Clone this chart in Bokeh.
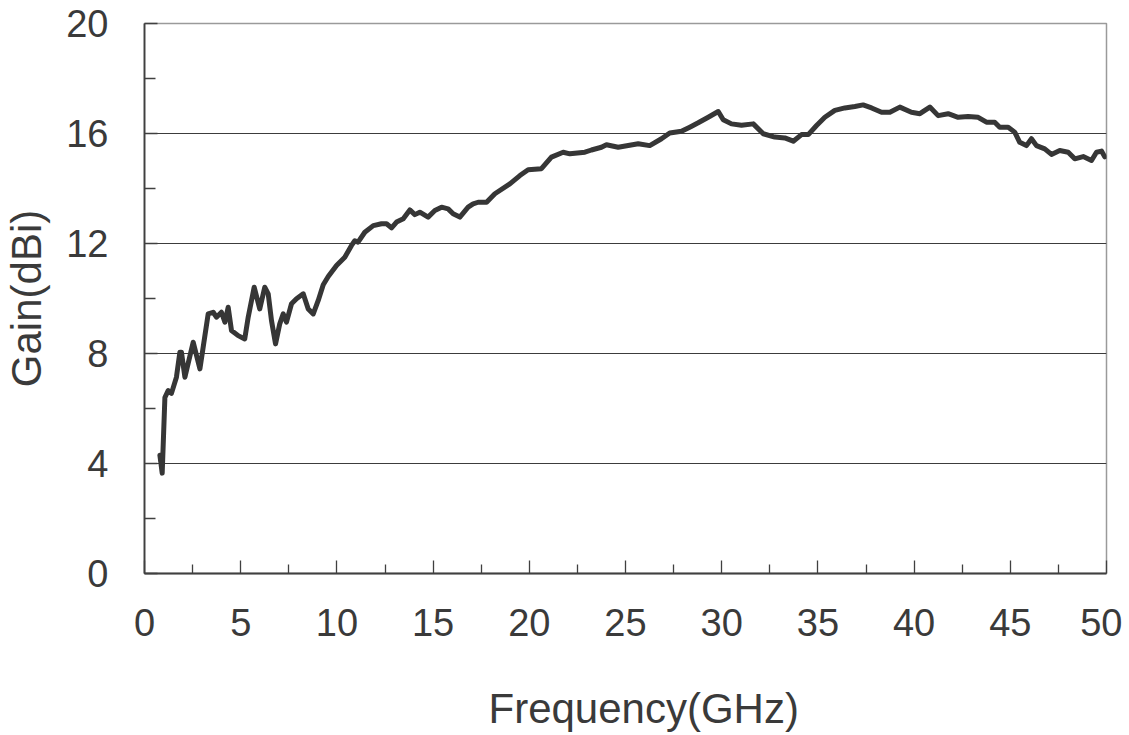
from bokeh.plotting import figure
from bokeh.models import FixedTicker, Range1d, Grid, Title
from bokeh.embed import file_html
from bokeh.resources import INLINE

freq_ghz = [0.80, 0.92, 1.06, 1.23, 1.40, 1.66, 1.84, 1.92, 2.10, 2.53, 2.88, 3.05, 3.31, 3.57, 3.74,
            4.00, 4.18, 4.35, 4.52, 4.87, 5.21, 5.39, 5.70, 5.99, 6.25, 6.43, 6.60, 6.81, 7.03, 7.21,
            7.38, 7.64, 7.90, 8.25, 8.51, 8.77, 9.03, 9.29, 9.55, 9.98, 10.41, 10.76, 10.93, 11.10,
            11.45, 11.89, 12.32, 12.58, 12.84, 13.10, 13.45, 13.79, 14.05, 14.31, 14.74, 15.09, 15.44,
            15.78, 16.04, 16.39, 16.82, 17.08, 17.34, 17.78, 18.21, 18.99, 19.51, 19.94, 20.63, 21.15,
            21.76, 22.11, 22.89, 23.23, 23.75, 24.01, 24.62, 25.66, 26.26, 26.87, 27.30, 27.91, 28.34,
            28.78, 29.30, 29.82, 30.08, 30.51, 31.03, 31.64, 32.16, 32.76, 33.28, 33.72, 34.15, 34.50,
            34.93, 35.36, 35.88, 36.40, 36.92, 37.35, 37.79, 38.31, 38.74, 39.26, 39.86, 40.30, 40.82,
            41.25, 41.77, 42.29, 42.81, 43.33, 43.76, 44.19, 44.45, 44.89, 45.23, 45.49, 45.84, 46.10,
            46.36, 46.79, 47.14, 47.57, 48.01, 48.35, 48.79, 49.22, 49.48, 49.74, 49.91]

gain_dbi = [4.30, 3.65, 6.40, 6.65, 6.55, 7.14, 8.05, 8.05, 7.14, 8.41, 7.44, 8.23, 9.44, 9.50, 9.32,
            9.50, 9.14, 9.68, 8.84, 8.65, 8.53, 9.32, 10.41, 9.62, 10.41, 10.17, 9.20, 8.35, 9.08, 9.44,
            9.14, 9.81, 9.99, 10.17, 9.62, 9.44, 9.93, 10.50, 10.80, 11.20, 11.50, 11.93, 12.10, 12.05,
            12.41, 12.65, 12.72, 12.72, 12.57, 12.78, 12.90, 13.22, 13.05, 13.14, 12.96, 13.20, 13.32,
            13.26, 13.08, 12.96, 13.32, 13.44, 13.50, 13.50, 13.81, 14.17, 14.47, 14.68, 14.72, 15.14,
            15.32, 15.26, 15.32, 15.40, 15.50, 15.59, 15.50, 15.63, 15.56, 15.81, 16.02, 16.08, 16.23,
            16.39, 16.59, 16.80, 16.50, 16.35, 16.30, 16.35, 15.99, 15.87, 15.84, 15.72, 15.96, 15.96,
            16.29, 16.59, 16.84, 16.93, 16.98, 17.04, 16.93, 16.77, 16.77, 16.96, 16.77, 16.72, 16.96,
            16.65, 16.72, 16.59, 16.62, 16.59, 16.41, 16.41, 16.23, 16.23, 16.05, 15.68, 15.56, 15.81,
            15.56, 15.44, 15.24, 15.38, 15.32, 15.08, 15.16, 15.02, 15.32, 15.36, 15.15]

x_major = [0, 5, 10, 15, 20, 25, 30, 35, 40, 45, 50]
x_minor = [2.5, 7.5, 12.5, 17.5, 22.5, 27.5, 32.5, 37.5, 42.5, 47.5]
y_major = [0, 4, 8, 12, 16, 20]
y_minor = [2, 6, 10, 14, 18]
grid_lines = [4, 8, 12, 16]
x_title = "Frequency(GHz)"
y_title = "Gain(dBi)"

FONT = "Liberation Sans"
TXT = "#3a3a3a"
AX = "#404040"

p = figure(width=1113, height=727, output_backend="svg", toolbar_location=None,
           x_range=Range1d(0, 50), y_range=Range1d(0, 20),
           frame_width=962, frame_height=550,
           min_border_left=135, min_border_right=16, min_border_top=23, min_border_bottom=140)

p.background_fill_color = "white"
p.border_fill_color = "white"
p.outline_line_color = "#9a9a9a"
p.outline_line_width = 1.5

p.xgrid.visible = False
p.ygrid.visible = False
p.add_layout(Grid(dimension=1, ticker=FixedTicker(ticks=grid_lines),
                  grid_line_color="#3c3c3c", grid_line_width=1.2))

p.line(freq_ghz, gain_dbi, line_color="#363636", line_width=5, line_join="round", line_cap="round")

p.xaxis.ticker = FixedTicker(ticks=x_major, minor_ticks=x_minor)
p.yaxis.ticker = FixedTicker(ticks=y_major, minor_ticks=y_minor)

for ax in (p.xaxis, p.yaxis):
    ax.axis_line_color = AX
    ax.axis_line_width = 1.8
    ax.major_tick_line_color = AX
    ax.minor_tick_line_color = AX
    ax.major_tick_line_width = 1.3
    ax.minor_tick_line_width = 1.3
    ax.major_tick_out = 0
    ax.minor_tick_out = 0
    ax.major_label_text_font = FONT
    ax.major_label_text_font_size = "38px"
    ax.major_label_text_color = TXT
    ax.axis_label_text_font = FONT
    ax.axis_label_text_font_size = "42px"
    ax.axis_label_text_font_style = "normal"
    ax.axis_label_text_color = TXT

p.xaxis.major_tick_in = 13
p.xaxis.minor_tick_in = 9
p.yaxis.major_tick_in = 13
p.yaxis.minor_tick_in = 11

p.yaxis.axis_label = y_title
p.xaxis.major_label_standoff = 35
p.yaxis.major_label_standoff = 36
p.yaxis.axis_label_standoff = 13

p.add_layout(Title(text=x_title, align="left", offset=344, standoff=88,
                   text_font=FONT, text_font_size="42px", text_font_style="normal",
                   text_color=TXT), "below")

open("out.html", "w").write(file_html(p, INLINE))
